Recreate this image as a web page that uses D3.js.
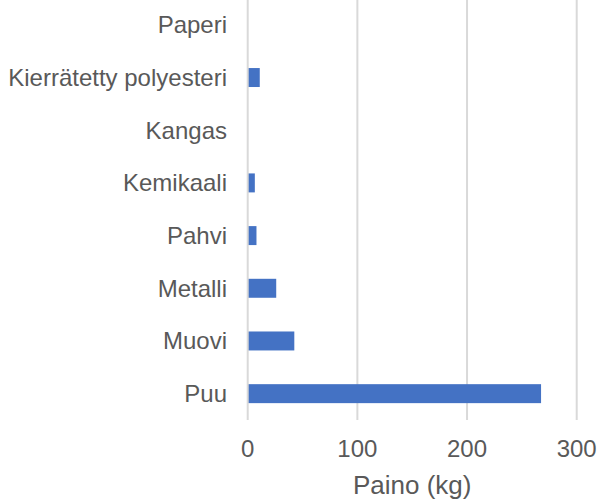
<!DOCTYPE html>
<html lang="fi">
  <head>
    <meta charset="UTF-8" />
    <title>Paino (kg)</title>
    <script src="https://d3js.org/d3.v7.min.js"></script>
    <style>
      body { margin: 0; background: #fff; }
      text { font-family: "Liberation Sans", Arial, sans-serif; fill: #595959; }
    </style>
  </head>
  <body>
    <script>
      // data
      const categories = ["Paperi", "Kierrätetty polyesteri", "Kangas", "Kemikaali", "Pahvi", "Metalli", "Muovi", "Puu"];
      const values = [0, 11, 0.3, 6.5, 8, 26, 42.5, 267.5];
      const xTicks = [0, 100, 200, 300];
      const xTitle = "Paino (kg)";

      const width = 598;
      const height = 501;
      const svg = d3.select("body").append("svg")
        .attr("width", width)
        .attr("height", height);

      const x = d3.scaleLinear().domain([0, 300]).range([247.7, 576.7]);
      const y = d3.scaleBand().domain(categories).range([-1.5, 420])
        .paddingInner(0.64).paddingOuter(0.32);

      // gridlines
      svg.append("g").selectAll("line")
        .data(xTicks.slice(1))
        .join("line")
        .attr("x1", d => x(d)).attr("x2", d => x(d))
        .attr("y1", 0).attr("y2", 420)
        .attr("stroke", "#d9d9d9").attr("stroke-width", 2);

      // bars
      svg.append("g").selectAll("rect")
        .data(categories)
        .join("rect")
        .attr("x", x(0))
        .attr("y", d => y(d))
        .attr("width", (d, i) => x(values[i]) - x(0))
        .attr("height", y.bandwidth())
        .attr("fill", "#4472c4");

      // zero axis line
      svg.append("line")
        .attr("x1", x(0)).attr("x2", x(0))
        .attr("y1", 0).attr("y2", 420)
        .attr("stroke", "#d9d9d9").attr("stroke-width", 2);

      // category labels
      svg.append("g").selectAll("text")
        .data(categories)
        .join("text")
        .attr("x", 227)
        .attr("y", d => y(d) + y.bandwidth() / 2)
        .attr("dy", "0.35em")
        .attr("text-anchor", "end")
        .style("font-size", "24px")
        .text(d => d);

      // tick labels
      svg.append("g").selectAll("text")
        .data(xTicks)
        .join("text")
        .attr("x", d => x(d))
        .attr("y", 457)
        .attr("text-anchor", "middle")
        .style("font-size", "24px")
        .text(d => d);

      svg.append("text")
        .attr("x", (x(0) + x(300)) / 2)
        .attr("y", 494)
        .attr("text-anchor", "middle")
        .style("font-size", "26px")
        .text(xTitle);
    </script>
  </body>
</html>
